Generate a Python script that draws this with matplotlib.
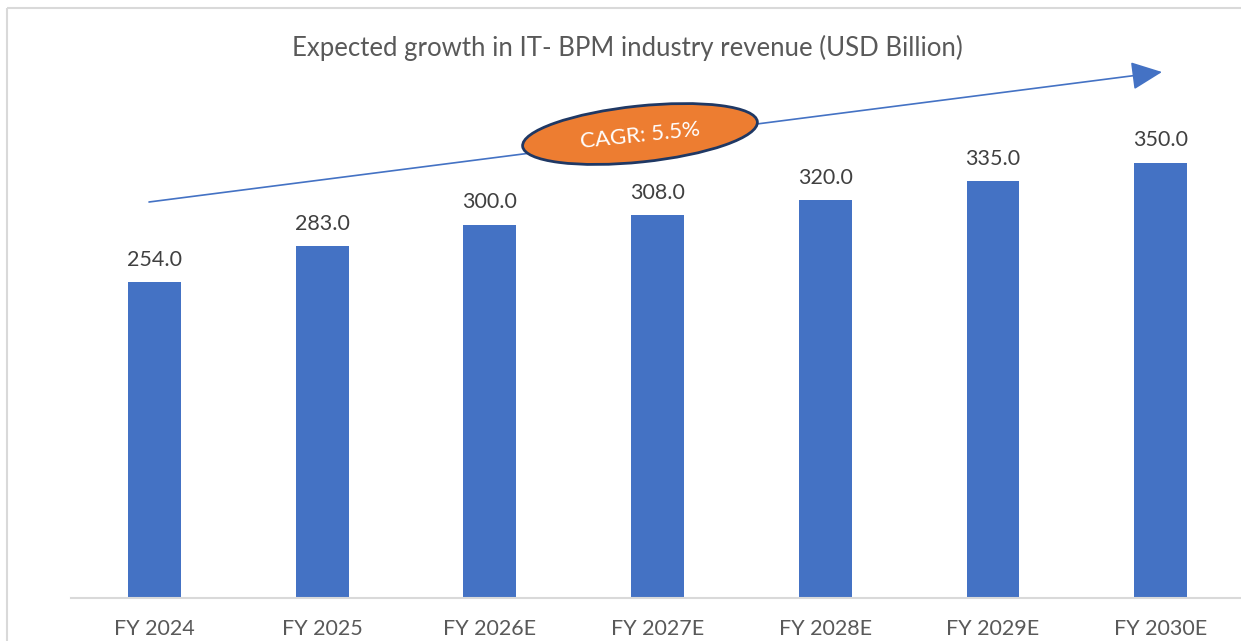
import matplotlib.pyplot as plt
from matplotlib.patches import Ellipse, Rectangle, FancyArrowPatch

years = ['FY 2024', 'FY 2025', 'FY 2026E', 'FY 2027E', 'FY 2028E', 'FY 2029E', 'FY 2030E']
revenue = [254.0, 283.0, 300.0, 308.0, 320.0, 335.0, 350.0]
title = 'Expected growth in IT- BPM industry revenue (USD Billion)'
cagr_label = 'CAGR: 5.5%'

plt.rcParams['font.family'] = ['Lato', 'DejaVu Sans']

fig = plt.figure(figsize=(12.41, 6.41), dpi=100)
ax = fig.add_axes([0.0569, 0.067, 0.946, 0.776])

x = range(len(years))
ax.bar(x, revenue, width=0.315, color='#4472C4', zorder=2)
for i, v in enumerate(revenue):
    ax.annotate(f'{v:.1f}', (i, v), xytext=(0, 9), textcoords='offset points',
                ha='center', va='bottom', fontsize=15.5, color='#404040')

ax.set_xlim(-0.5, len(years) - 0.5)
ax.set_ylim(0, 400)
ax.set_xticks(list(x))
ax.set_xticklabels(years, fontsize=15.5, color='#595959')
ax.tick_params(axis='x', length=0, pad=15)
ax.set_yticks([])
for s in ['top', 'right', 'left']:
    ax.spines[s].set_visible(False)
ax.spines['bottom'].set_color('#D9D9D9')
ax.spines['bottom'].set_linewidth(1.5)

# overlay in pixel coords for the decorations
ov = fig.add_axes([0, 0, 1, 1], zorder=5)
ov.set_xlim(0, 1241)
ov.set_ylim(641, 0)
ov.axis('off')
ov.patch.set_alpha(0)

ov.add_patch(Rectangle((7, 8), 1300, 700, fill=False, edgecolor='#D9D9D9', lw=1.5))
ov.text(627, 48, title, ha='center', va='center', fontsize=18.5, color='#595959')

arrow = FancyArrowPatch((149, 202), (1162, 72), arrowstyle='-|>,head_length=1.2,head_width=0.55',
                        mutation_scale=16, color='#4472C4', lw=1.2, shrinkA=0, shrinkB=0)
ov.add_patch(arrow)

ov.add_patch(Ellipse((640, 134), 236, 56, angle=-6, facecolor='#ED7D31',
                     edgecolor='#1F3864', lw=2, zorder=6))
ov.text(640, 136, cagr_label, ha='center', va='center', rotation=6, fontsize=16,
        color='white', zorder=7)

fig.savefig('out.png', dpi=100)
